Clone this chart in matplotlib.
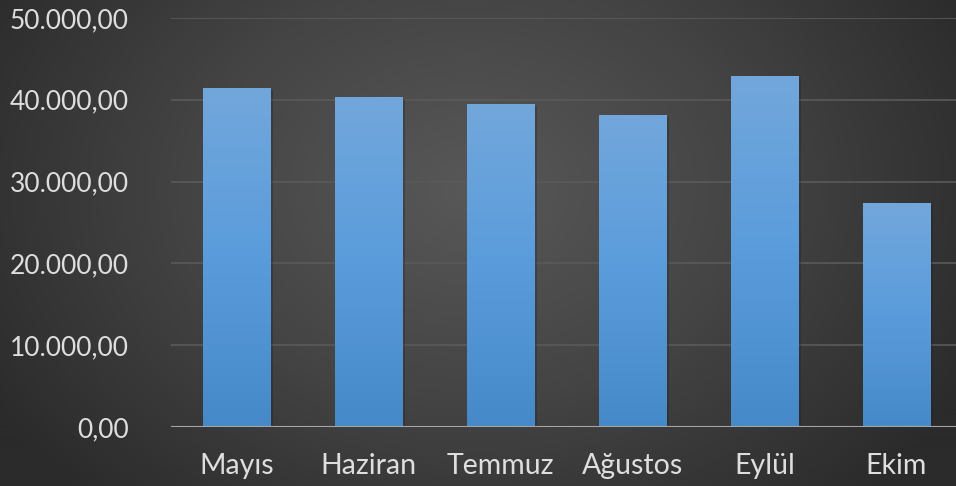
import numpy as np
import matplotlib
matplotlib.use('Agg')
import matplotlib.pyplot as plt
import matplotlib.patheffects as pe
from matplotlib.colors import LinearSegmentedColormap
from matplotlib.ticker import FuncFormatter


months = ['Mayıs', 'Haziran', 'Temmuz', 'Ağustos', 'Eylül', 'Ekim']
values = [41500, 40350, 39500, 38150, 42900, 27350]
y_ticks = [0, 10000, 20000, 30000, 40000, 50000]

W, H, DPI = 956, 486, 100
TEXT = '#dedede'


def tr_fmt(v, pos=None):
    # 50000 -> 50.000,00
    s = f'{v:,.2f}'
    return s.replace(',', 'X').replace('.', ',').replace('X', '.')


plt.rcParams['font.family'] = ['Lato', 'DejaVu Sans']

fig = plt.figure(figsize=(W / DPI, H / DPI), dpi=DPI)

# radial background
yy, xx = np.mgrid[0:H, 0:W]
r = np.sqrt(((xx - 470) / 560.0) ** 2 + ((yy - 190) / 420.0) ** 2)
bg_cm = LinearSegmentedColormap.from_list('bg', ['#585858', '#444444', '#2b2b2b'])
bg = fig.add_axes([0, 0, 1, 1])
bg.imshow(np.clip(r, 0, 1), cmap=bg_cm, vmin=0, vmax=1, aspect='auto')
bg.axis('off')

ax = fig.add_axes([170.5 / W, (H - 427) / H, 792 / W, 409 / H])
ax.patch.set_alpha(0)
x = np.arange(len(months))
bars = ax.bar(x, values, width=0.51, color='#5b9bd5', zorder=3,
              path_effects=[pe.SimplePatchShadow(offset=(2, -1.5), shadow_rgbFace='#1f1f1f', alpha=0.3),
                            pe.Normal()])

bar_cm = LinearSegmentedColormap.from_list('bar', ['#4689c9', '#5a9cdb', '#72a7dc'])
grad = np.linspace(0, 1, 256).reshape(-1, 1)
for b in bars:
    x0, w, h = b.get_x(), b.get_width(), b.get_height()
    im = ax.imshow(grad, cmap=bar_cm, aspect='auto', origin='lower',
                   extent=[x0, x0 + w, 0, h], zorder=4)
    im.set_clip_path(b)

ax.set_xlim(-0.5, len(months) - 0.5)
ax.set_ylim(0, 50000)
ax.set_yticks(y_ticks)
ax.yaxis.set_major_formatter(FuncFormatter(tr_fmt))
ax.set_xticks(x)
ax.set_xticklabels(months)
ax.grid(axis='y', color='#5a5a5a', linewidth=1.2, zorder=1)
ax.axhline(0, color='#a6a6a6', linewidth=1.5, zorder=5)
for s in ax.spines.values():
    s.set_visible(False)
ax.tick_params(length=0, colors=TEXT)
ax.tick_params(axis='y', pad=30, labelsize=19)
ax.tick_params(axis='x', pad=19, labelsize=20.5)

fig.savefig('out.png', dpi=DPI)
